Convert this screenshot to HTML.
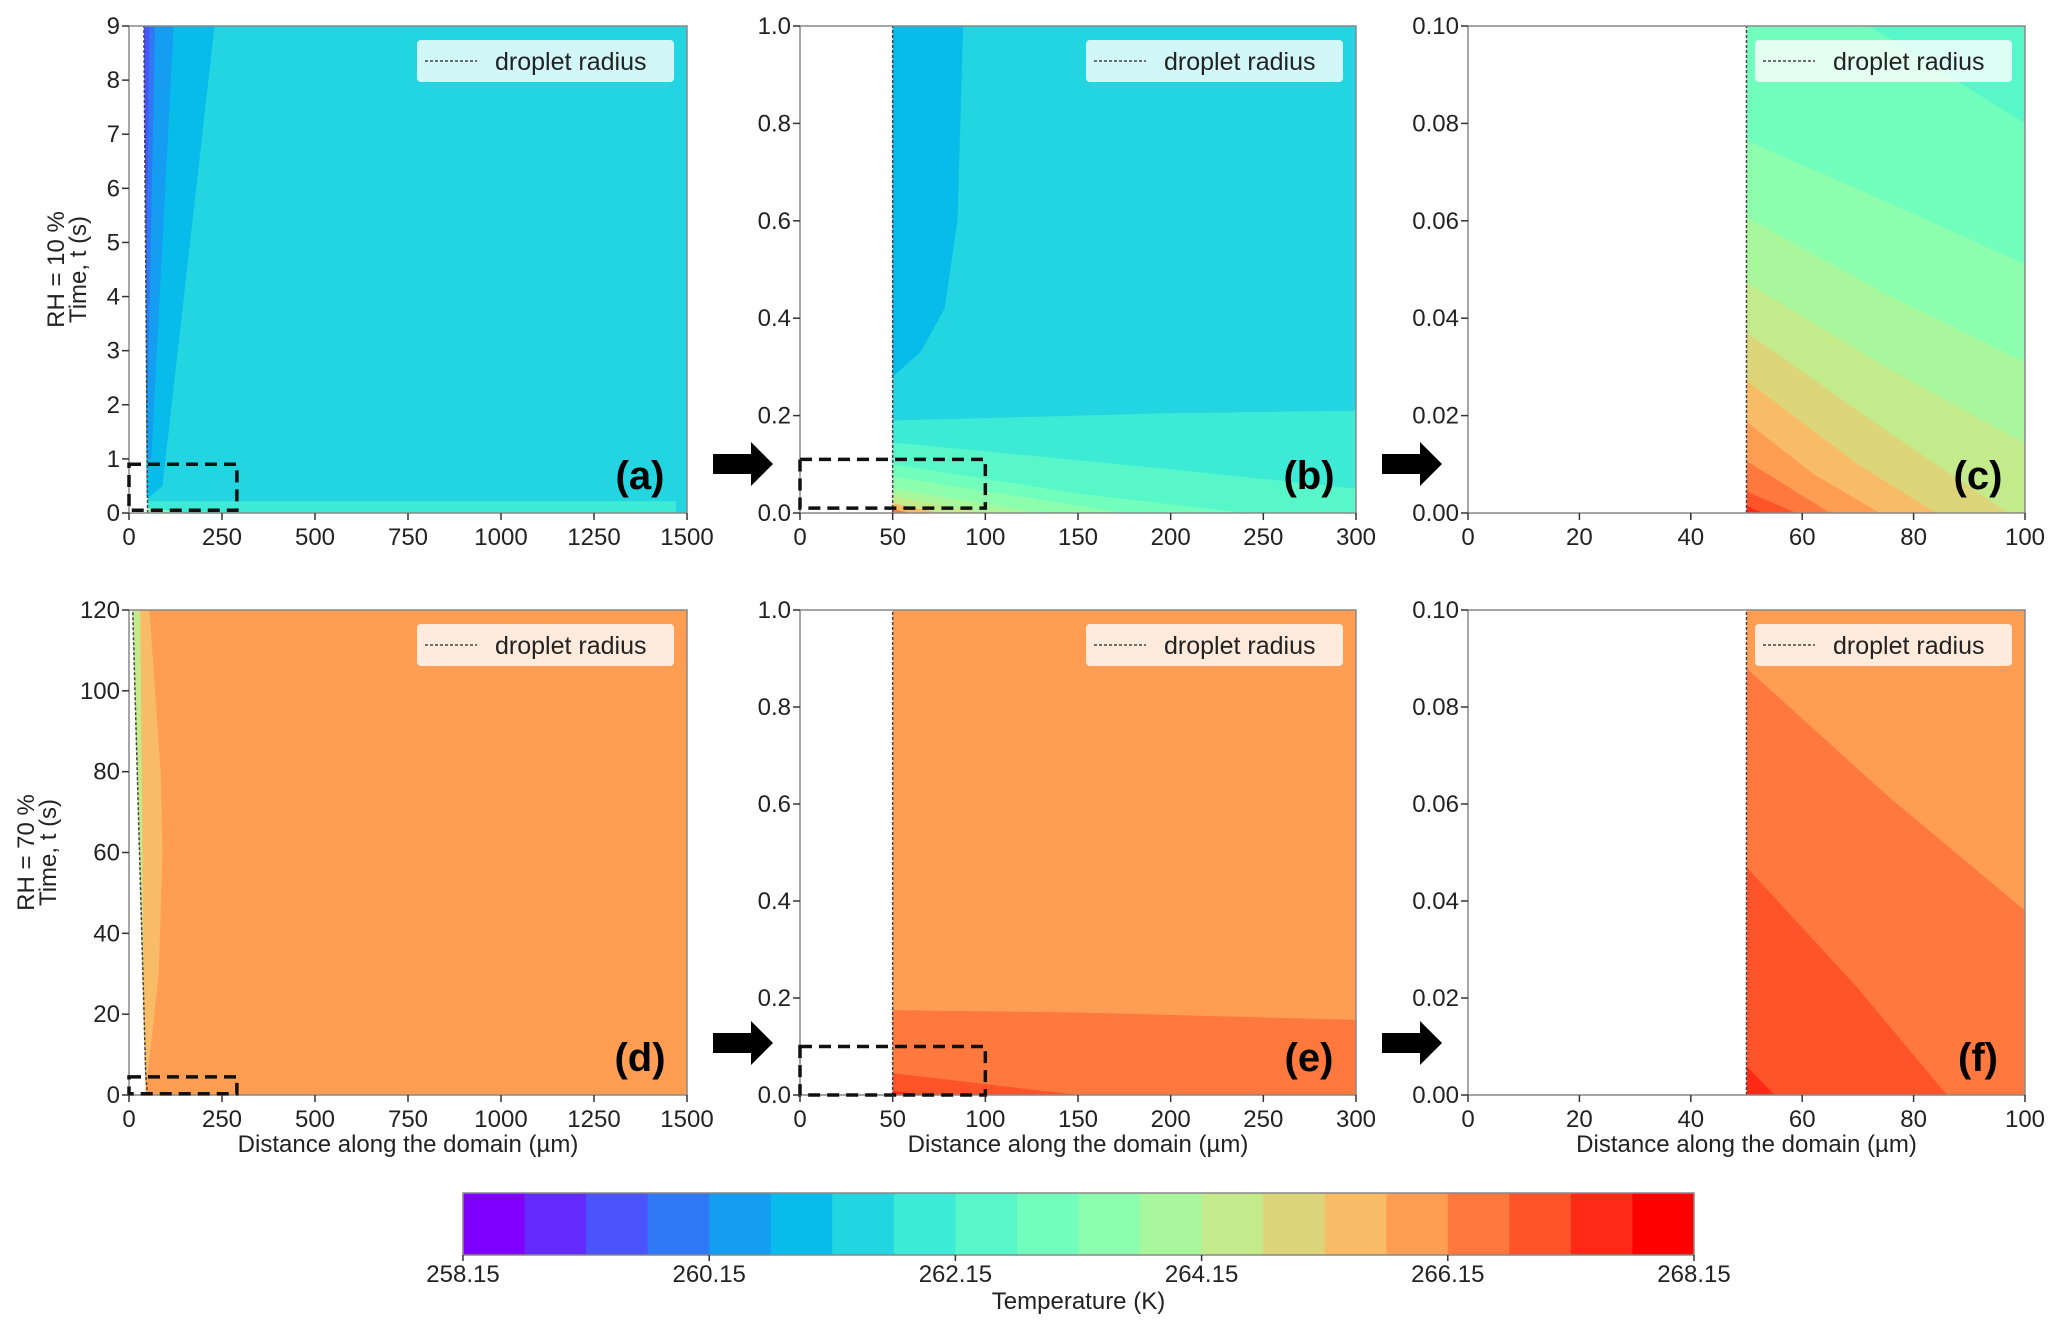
<!DOCTYPE html>
<html><head><meta charset="utf-8"><style>
html,body{margin:0;padding:0;background:#fff;}
svg{display:block;font-family:"Liberation Sans",sans-serif;}
</style></head><body>
<svg id="fig" width="2067" height="1333" viewBox="0 0 2067 1333"></svg>
<script>
// ---- data ----
const levelMin = 258.15, levelStep = 0.5, levelCount = 20;
const cbarTicks = [258.15, 260.15, 262.15, 264.15, 266.15, 268.15];
const ticksBig = [0,250,500,750,1000,1250,1500];
const ticksMid = [0,50,100,150,200,250,300];
const ticksSmall = [0,20,40,60,80,100];
const yTicksA = [0,1,2,3,4,5,6,7,8,9];
const yTicksB = [0,0.2,0.4,0.6,0.8,1.0];
const yTicksC = [0,0.02,0.04,0.06,0.08,0.10];
const yTicksD = [0,20,40,60,80,100,120];
// contour regions: [band, [[x,y],...]] in data coordinates
const regionsA = [
 [6,[[50,0],[1500,0],[1500,9],[40,9]]],
 [5,[[42,9],[230,9],[90,0.5],[55,0.3],[47,0.3]]],
 [4,[[41,9],[120,9],[60,1],[48,1]]],
 [3,[[40.5,9],[70,9],[50,2]]],
 [2,[[40,9],[55,9],[46,4]]],
 [7,[[50,0],[1470,0],[1470,0.22],[50,0.22]]],
 [10,[[50,0],[150,0],[50,0.1]]]
];
const dropA = [[50,0],[40,9]];
const regionsB = [
 [6,[[50,0],[300,0],[300,1],[50,1]]],
 [5,[[50,1],[88,1],[85,0.6],[78,0.42],[65,0.33],[50,0.28]]],
 [7,[[50,0],[300,0],[300,0.21],[200,0.205],[50,0.19]]],
 [8,[[50,0],[300,0],[300,0.05],[200,0.09],[50,0.145]]],
 [9,[[50,0],[240,0],[150,0.04],[50,0.1]]],
 [10,[[50,0],[175,0],[50,0.075]]],
 [11,[[50,0],[130,0],[50,0.05]]],
 [12,[[50,0],[100,0],[50,0.035]]],
 [14,[[50,0],[75,0],[50,0.02]]],
 [16,[[50,0],[60,0],[50,0.008]]]
];
const dropB = [[50,0],[50,1]];
const regionsC = [
 [8,[[50,0],[100,0],[100,0.1],[50,0.1]]],
 [9,[[50,0.1],[72,0.1],[100,0.08],[100,0],[50,0]]],
 [10,[[50,0.0765],[75,0.064],[100,0.0511],[100,0],[50,0]]],
 [11,[[50,0.0607],[75,0.045],[100,0.0309],[100,0],[50,0]]],
 [12,[[50,0.0474],[75,0.030],[100,0.0143],[100,0],[50,0]]],
 [13,[[50,0.0371],[75,0.017],[97,0],[50,0]]],
 [14,[[50,0.0272],[70,0.010],[84,0],[50,0]]],
 [15,[[50,0.0188],[62,0.008],[74,0],[50,0]]],
 [16,[[50,0.0107],[65,0],[50,0]]],
 [17,[[50,0.0044],[59,0],[50,0]]],
 [18,[[50,0.0015],[53,0],[50,0]]]
];
const dropC = [[50,0],[50,0.1]];
const regionsD = [
 [15,[[45,0],[1500,0],[1500,120],[10,120]]],
 [14,[[10,120],[55,120],[85,80],[90,60],[80,30],[50,5],[45,5]]],
 [12,[[10,120],[30,120],[40,20],[45,5]]]
];
const dropD = [[50,0],[45,5],[10,120]];
const regionsE = [
 [15,[[50,0],[300,0],[300,1],[50,1]]],
 [16,[[50,0],[300,0],[300,0.155],[150,0.17],[50,0.175]]],
 [17,[[50,0],[150,0],[50,0.045]]],
 [18,[[50,0],[70,0],[50,0.008]]]
];
const dropE = [[50,0],[50,1]];
const regionsF = [
 [15,[[50,0],[100,0],[100,0.1],[50,0.1]]],
 [16,[[50,0.088],[75,0.062],[100,0.038],[100,0],[50,0]]],
 [17,[[50,0.047],[70,0.022],[86,0],[50,0]]],
 [18,[[50,0.006],[55,0],[50,0]]]
];
const dropF = [[50,0],[50,0.1]];

// ---- helpers ----
const NS = "http://www.w3.org/2000/svg";
const svg = document.getElementById('fig');
function mk(tag, attrs, parent){ const e=document.createElementNS(NS,tag); for(const k in attrs) e.setAttribute(k,attrs[k]); (parent||svg).appendChild(e); return e; }
function bandColor(i){
  const x = i/(levelCount-1);
  const r = Math.min(1,Math.abs(2*x-0.5)), g = Math.sin(Math.PI*x), b = Math.cos(Math.PI*x/2);
  return `rgb(${Math.round(r*255)},${Math.round(g*255)},${Math.round(Math.max(0,b)*255)})`;
}
function fmt(v,dec){ return v.toFixed(dec); }

const panels = [
 {id:'a', L:129,R:687,T:26,B:513, xmax:1500,ymax:9, xt:ticksBig, yt:yTicksA, ydec:0, reg:regionsA, drop:dropA, box:[0,290,0.05,0.9], ylab:['RH = 10 %','Time, t (s)'], xlab:false, arrow:true},
 {id:'b', L:800,R:1356,T:26,B:513, xmax:300,ymax:1, xt:ticksMid, yt:yTicksB, ydec:1, reg:regionsB, drop:dropB, box:[0,100,0.01,0.11], arrow:true},
 {id:'c', L:1468,R:2025,T:26,B:513, xmax:100,ymax:0.1, xt:ticksSmall, yt:yTicksC, ydec:2, reg:regionsC, drop:dropC},
 {id:'d', L:129,R:687,T:610,B:1095, xmax:1500,ymax:120, xt:ticksBig, yt:yTicksD, ydec:0, reg:regionsD, drop:dropD, box:[0,290,0.3,4.5], ylab:['RH = 70 %','Time, t (s)'], xlab:true, arrow:true},
 {id:'e', L:800,R:1356,T:610,B:1095, xmax:300,ymax:1, xt:ticksMid, yt:yTicksB, ydec:1, reg:regionsE, drop:dropE, box:[0,100,0,0.1], xlab:true, arrow:true},
 {id:'f', L:1468,R:2025,T:610,B:1095, xmax:100,ymax:0.1, xt:ticksSmall, yt:yTicksC, ydec:2, reg:regionsF, drop:dropF, xlab:true}
];

panels.forEach(p=>{
  const sx = v => p.L + v/p.xmax*(p.R-p.L);
  const sy = v => p.B - v/p.ymax*(p.B-p.T);
  const g = mk('g',{});
  
  
  const cid='clip'+p.id;
  const cp = mk('clipPath',{id:cid},g);
  mk('rect',{x:p.L,y:p.T,width:p.R-p.L,height:p.B-p.T},cp);
  const fg = mk('g',{'clip-path':`url(#${cid})`},g);
  p.reg.forEach(([band,pts],k)=>{
    const poly = mk('polygon',{points:pts.map(q=>sx(q[0])+','+sy(q[1])).join(' '),fill:bandColor(band)},fg);
    
    
  });
  // droplet radius line
  const dl = mk('polyline',{points:p.drop.map(q=>sx(q[0])+','+sy(q[1])).join(' '),fill:'none',stroke:'#444','stroke-width':1.5,'stroke-dasharray':'3,2'},fg);
  
  
  // axes frame
  const fr = mk('rect',{x:p.L,y:p.T,width:p.R-p.L,height:p.B-p.T,fill:'none',stroke:'#888','stroke-width':1.5},g);
  
  
  // zoom box
  if(p.box){
    const b=p.box;
    const zb = mk('rect',{x:sx(b[0]),y:sy(b[3]),width:sx(b[1])-sx(b[0]),height:sy(b[2])-sy(b[3]),fill:'none',stroke:'#111','stroke-width':3.5,'stroke-dasharray':'12,7'},g);
    
    
  }
  // ticks
  p.xt.forEach(v=>{
    mk('line',{x1:sx(v),x2:sx(v),y1:p.B,y2:p.B+7,stroke:'#333','stroke-width':1.5},g);
    const t = mk('text',{x:sx(v),y:p.B+32,'text-anchor':'middle','font-size':24,fill:'#222'},g);
    t.textContent = v;
    
    
  });
  p.yt.forEach(v=>{
    mk('line',{x1:p.L-7,x2:p.L,y1:sy(v),y2:sy(v),stroke:'#333','stroke-width':1.5},g);
    const t = mk('text',{x:p.L-9,y:sy(v)+8,'text-anchor':'end','font-size':24,fill:'#222'},g);
    t.textContent = fmt(v,p.ydec);
    
    
  });
  // legend
  const lx = p.R-270, ly = p.T+14;
  const lg = mk('g',{},g);
  
  
  mk('rect',{x:lx,y:ly,width:257,height:42,rx:4,fill:'#fff','fill-opacity':0.8},lg);
  mk('line',{x1:lx+8,x2:lx+60,y1:ly+21,y2:ly+21,stroke:'#444','stroke-width':1.5,'stroke-dasharray':'3,2'},lg);
  const lt = mk('text',{x:lx+78,y:ly+30,'font-size':25,fill:'#222','font-family':'"Liberation Sans Narrow","Liberation Sans",sans-serif'},lg);
  lt.textContent='droplet radius';
  
  
  // panel label
  const pl = mk('text',{x:p.R-47,y:p.B-24,'text-anchor':'middle','font-size':40,'font-weight':'bold',fill:'#000','font-family':'"Liberation Sans Narrow","Liberation Sans",sans-serif'},g);
  pl.textContent='('+p.id+')';
  
  
  if(p.ylab){
    const cy=(p.T+p.B)/2;
    p.ylab.forEach((s,i)=>{
      const t = mk('text',{x:0,y:0,transform:`translate(${(p.id==='a'?64:34)+i*22},${cy}) rotate(-90)`,'text-anchor':'middle','font-size':24,fill:'#222'},g);
      t.textContent=s;
      
      
    });
  }
  if(p.xlab){
    const t = mk('text',{x:(p.L+p.R)/2,y:p.B+57,'text-anchor':'middle','font-size':24,fill:'#222'},g);
    t.textContent='Distance along the domain (µm)';
    
    
  }
  if(p.arrow){
    const ax=p.R+26, ay=(p.id==='a'||p.id==='b')?464:1043;
    const ar = mk('polygon',{points:`${ax},${ay-10} ${ax+38},${ay-10} ${ax+38},${ay-22} ${ax+60},${ay} ${ax+38},${ay+22} ${ax+38},${ay+10} ${ax},${ay+10}`,fill:'#000'});
    
    
  }
});

// colorbar
const CL=463, CR=1694, CT=1193, CB=1255;
const cbx = v => CL + (v-levelMin)/(levelStep*levelCount)*(CR-CL);
const cb = mk('g',{});


for(let i=0;i<levelCount;i++){
  const r = mk('rect',{x:cbx(levelMin+i*levelStep),y:CT,width:cbx(levelMin+(i+1)*levelStep)-cbx(levelMin+i*levelStep)+0.5,height:CB-CT,fill:bandColor(i)},cb);
  
  
}
mk('rect',{x:CL,y:CT,width:CR-CL,height:CB-CT,fill:'none',stroke:'#888','stroke-width':1.5},cb);
cbarTicks.forEach(v=>{
  mk('line',{x1:cbx(v),x2:cbx(v),y1:CB,y2:CB+6,stroke:'#333','stroke-width':1.5},cb);
  const t = mk('text',{x:cbx(v),y:CB+27,'text-anchor':'middle','font-size':24,fill:'#222'},cb);
  t.textContent=v.toFixed(2);
  
  
});
const ct = mk('text',{x:(CL+CR)/2,y:CB+54,'text-anchor':'middle','font-size':24,fill:'#222'},cb);
ct.textContent='Temperature (K)';


</script>
</body></html>
